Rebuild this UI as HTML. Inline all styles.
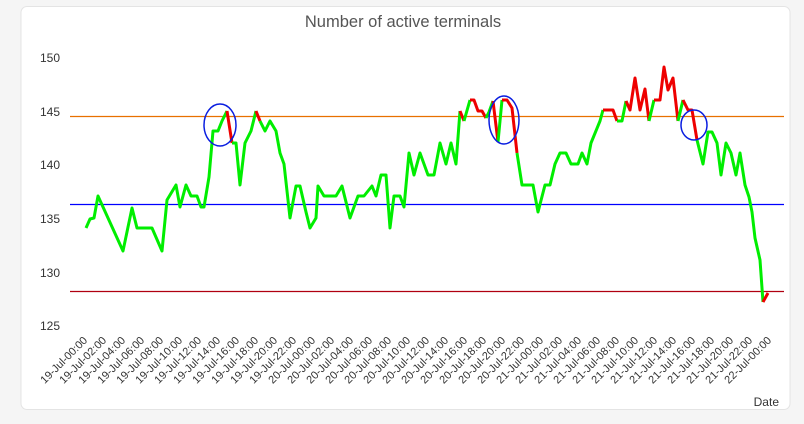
<!DOCTYPE html>
<html><head><meta charset="utf-8"><style>
html,body{margin:0;padding:0;background:#f5f5f5;width:804px;height:424px;overflow:hidden}
svg{display:block}
text{font-family:"Liberation Sans",sans-serif}
</style></head><body>
<svg width="804" height="424" viewBox="0 0 804 424">
<rect x="21" y="6.5" width="769" height="403" rx="6" fill="#fff" stroke="#e4e4e4"/>
<text x="403" y="27" text-anchor="middle" font-size="16.5" fill="#555">Number of active terminals</text>
<g font-size="12" fill="#333" text-anchor="end">
<text x="60" y="62">150</text><text x="60" y="116">145</text><text x="60" y="169">140</text>
<text x="60" y="223">135</text><text x="60" y="277">130</text><text x="60" y="330">125</text>
</g>
<line x1="70" y1="116.5" x2="784" y2="116.5" stroke="#e87000" stroke-width="1.3"/>
<line x1="70" y1="204.5" x2="784" y2="204.5" stroke="#0000ff" stroke-width="1.3"/>
<line x1="70" y1="291.5" x2="784" y2="291.5" stroke="#b00010" stroke-width="1.3"/>
<g fill="none" stroke-width="3" stroke-linejoin="round">
<polyline stroke="#00ee00" points="86,228 90,219 94,218 98,196 123,251 132,208 137,228 152,228 162,251 167,200 176,185 180,207 186,185 191,196 197,196 201,207 204,207 209,177 213,131 218,131 222,121 227,111"/>
<polyline stroke="#ee0000" points="227,111 232,143"/>
<polyline stroke="#00ee00" points="232,143 236,143 240,185 245,143 251,131 256,111"/>
<polyline stroke="#ee0000" points="256,111 260,121"/>
<polyline stroke="#00ee00" points="260,121 265,131 270,121 276,131 280,153 284,164 290,218 296,186 300,186 306,212 310,228 316,218 318,186 324,196 336,196 342,186 350,218 358,196 364,196 372,186 376,196 381,175 386,175 390,228 394,196 400,196 404,207 409,153 414,175 420,153 428,175 434,175 440,143 446,164 451,143 456,164 460,111"/>
<polyline stroke="#ee0000" points="460,111 464,121"/>
<polyline stroke="#00ee00" points="464,121 470,100"/>
<polyline stroke="#ee0000" points="470,100 474,100 478,111 482,111 486,118"/>
<polyline stroke="#00ee00" points="486,118 489,112 493,101"/>
<polyline stroke="#ee0000" points="493,101 498,142"/>
<polyline stroke="#00ee00" points="498,142 502,100"/>
<polyline stroke="#ee0000" points="502,100 507,100 512,108 517,153"/>
<polyline stroke="#00ee00" points="517,153 522,185 533,185 538,212 545,185 550,185 555,164 560,153 566,153 571,164 578,164 582,153 587,164 591,143 600,121 603,110"/>
<polyline stroke="#ee0000" points="603,110 613,110 617,121"/>
<polyline stroke="#00ee00" points="617,121 622,121 626,101"/>
<polyline stroke="#ee0000" points="626,101 630,110 635,78 640,110 645,89 649,121"/>
<polyline stroke="#00ee00" points="649,121 654,100"/>
<polyline stroke="#ee0000" points="654,100 660,100 664,67 668,90 673,78 678,121"/>
<polyline stroke="#00ee00" points="678,121 683,100"/>
<polyline stroke="#ee0000" points="683,100 688,110 692,110 697,140"/>
<polyline stroke="#00ee00" points="697,140 703,164 708,132 712,132 717,143 721,175 726,143 731,153 736,175 740,153 745,185 749,197 752,212 755,238 760,260 763,302"/>
<polyline stroke="#ee0000" points="763,302 768,293"/>
</g>
<g fill="none" stroke="#0a1ee0" stroke-width="1.5">
<ellipse cx="220" cy="125" rx="16" ry="21"/>
<ellipse cx="504" cy="120" rx="15" ry="24"/>
<ellipse cx="694" cy="125" rx="13" ry="15"/>
</g>
<g font-size="11" fill="#333" text-anchor="end">
<text transform="translate(88,341) rotate(-45)">19-Jul-00:00</text>
<text transform="translate(107,341) rotate(-45)">19-Jul-02:00</text>
<text transform="translate(126,341) rotate(-45)">19-Jul-04:00</text>
<text transform="translate(145,341) rotate(-45)">19-Jul-06:00</text>
<text transform="translate(164,341) rotate(-45)">19-Jul-08:00</text>
<text transform="translate(183,341) rotate(-45)">19-Jul-10:00</text>
<text transform="translate(202,341) rotate(-45)">19-Jul-12:00</text>
<text transform="translate(221,341) rotate(-45)">19-Jul-14:00</text>
<text transform="translate(240,341) rotate(-45)">19-Jul-16:00</text>
<text transform="translate(259,341) rotate(-45)">19-Jul-18:00</text>
<text transform="translate(278,341) rotate(-45)">19-Jul-20:00</text>
<text transform="translate(297,341) rotate(-45)">19-Jul-22:00</text>
<text transform="translate(316,341) rotate(-45)">20-Jul-00:00</text>
<text transform="translate(335,341) rotate(-45)">20-Jul-02:00</text>
<text transform="translate(354,341) rotate(-45)">20-Jul-04:00</text>
<text transform="translate(373,341) rotate(-45)">20-Jul-06:00</text>
<text transform="translate(392,341) rotate(-45)">20-Jul-08:00</text>
<text transform="translate(411,341) rotate(-45)">20-Jul-10:00</text>
<text transform="translate(430,341) rotate(-45)">20-Jul-12:00</text>
<text transform="translate(449,341) rotate(-45)">20-Jul-14:00</text>
<text transform="translate(468,341) rotate(-45)">20-Jul-16:00</text>
<text transform="translate(487,341) rotate(-45)">20-Jul-18:00</text>
<text transform="translate(506,341) rotate(-45)">20-Jul-20:00</text>
<text transform="translate(525,341) rotate(-45)">20-Jul-22:00</text>
<text transform="translate(544,341) rotate(-45)">21-Jul-00:00</text>
<text transform="translate(563,341) rotate(-45)">21-Jul-02:00</text>
<text transform="translate(582,341) rotate(-45)">21-Jul-04:00</text>
<text transform="translate(601,341) rotate(-45)">21-Jul-06:00</text>
<text transform="translate(620,341) rotate(-45)">21-Jul-08:00</text>
<text transform="translate(639,341) rotate(-45)">21-Jul-10:00</text>
<text transform="translate(658,341) rotate(-45)">21-Jul-12:00</text>
<text transform="translate(677,341) rotate(-45)">21-Jul-14:00</text>
<text transform="translate(696,341) rotate(-45)">21-Jul-16:00</text>
<text transform="translate(715,341) rotate(-45)">21-Jul-18:00</text>
<text transform="translate(734,341) rotate(-45)">21-Jul-20:00</text>
<text transform="translate(753,341) rotate(-45)">21-Jul-22:00</text>
<text transform="translate(772,341) rotate(-45)">22-Jul-00:00</text>
</g>
<text x="779" y="406" font-size="12" fill="#333" text-anchor="end">Date</text>
</svg>
</body></html>
